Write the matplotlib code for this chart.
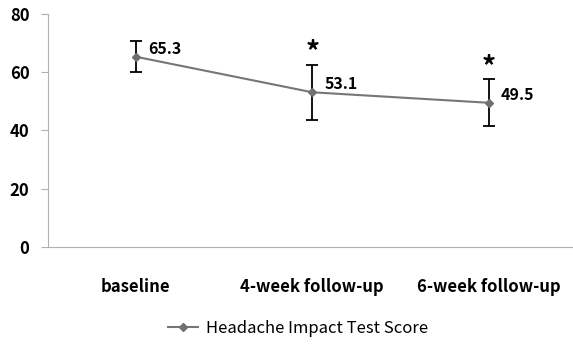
import matplotlib.pyplot as plt

categories = ['baseline', '4-week follow-up', '6-week follow-up']
scores = [65.3, 53.1, 49.5]
errors = [5.4, 9.5, 8.1]
labels = ['65.3', '53.1', '49.5']
significant = [False, True, True]

plt.rcParams['font.family'] = ['Noto Sans CJK KR', 'DejaVu Sans']

fig = plt.figure(figsize=(5.73, 3.47), dpi=100)
ax = fig.add_axes([0.083, 0.288, 0.924, 0.672])

x = range(len(categories))
ax.errorbar(x, scores, yerr=errors, fmt='none', ecolor='black', elinewidth=1.3,
            capsize=4, capthick=1.3, zorder=2)
ax.plot(x, scores, color='#767676', lw=1.5, marker='D', ms=4.5,
        mfc='#707070', mec='#707070', label='Headache Impact Test Score', zorder=3)

for i, (v, e) in enumerate(zip(scores, errors)):
    ax.text(i + 0.07, v + 2.8, labels[i], fontsize=11.5, fontweight='bold', va='center')
    if significant[i]:
        ax.text(i, v + e + 4.2, '*', fontsize=20, fontweight='bold', ha='center', va='center')

ax.set_xlim(-0.5, 2.5)
ax.set_ylim(0, 80)
ax.set_yticks([0, 20, 40, 60, 80])
ax.set_xticks(list(x))
ax.set_xticklabels(categories)
for s in ['top', 'right']:
    ax.spines[s].set_visible(False)
for s in ['left', 'bottom']:
    ax.spines[s].set_color('#b0b0b0')
ax.tick_params(axis='y', length=5, color='#b0b0b0', labelsize=12, pad=8)
ax.tick_params(axis='x', length=0, labelsize=12, pad=22)
for t in ax.get_yticklabels() + ax.get_xticklabels():
    t.set_fontweight('bold')

fig.legend(loc='lower center', bbox_to_anchor=(0.52, -0.015), frameon=False,
           prop={'size': 12, 'weight': 'medium'}, handlelength=1.8, handletextpad=0.5)

fig.savefig('out.png', dpi=100)
